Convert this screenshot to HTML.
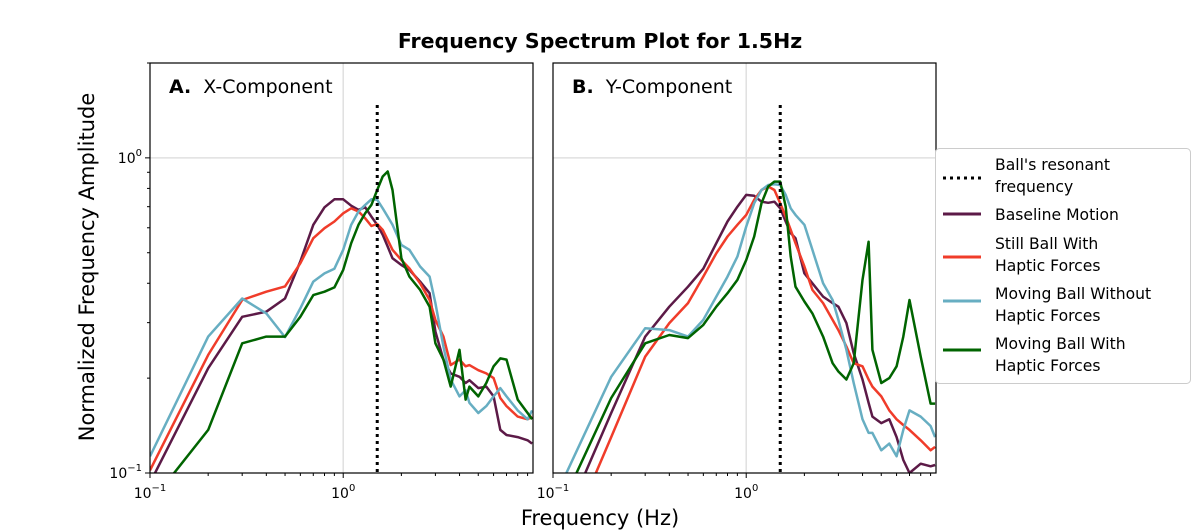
<!DOCTYPE html>
<html><head><meta charset="utf-8"><style>
html,body{margin:0;background:#fff;overflow:hidden;width:1200px;height:532px;}
svg{display:block;font-family:"DejaVu Sans","Liberation Sans",sans-serif;}
</style></head><body>
<svg id="chart" width="1200" height="532" viewBox="0 0 1200 532">
<text x="600" y="48" text-anchor="middle" font-size="20.5" font-weight="bold">Frequency Spectrum Plot for 1.5Hz</text>
<text x="600" y="525" text-anchor="middle" font-size="21">Frequency (Hz)</text>
<text transform="translate(94,267) rotate(-90)" text-anchor="middle" font-size="21">Normalized Frequency Amplitude</text>
<g id="panels"></g>
<g>
<rect x="935.5" y="148.5" width="255" height="235" rx="4" fill="#fff" stroke="#ccc"/>
<g><line x1="943" y1="178" x2="981" y2="178" stroke="#000" stroke-width="3" stroke-dasharray="3,4"/><text x="995" y="170" font-size="15.6">Ball's resonant</text><text x="995" y="192" font-size="15.6">frequency</text></g>
<g><line x1="943" y1="214" x2="981" y2="214" stroke="#5c1a47" stroke-width="3"/><text x="995" y="220" font-size="15.6">Baseline Motion</text></g>
<g><line x1="943" y1="257" x2="981" y2="257" stroke="#f03c2a" stroke-width="3"/><text x="995" y="249" font-size="15.6">Still Ball With</text><text x="995" y="271" font-size="15.6">Haptic Forces</text></g>
<g><line x1="943" y1="301" x2="981" y2="301" stroke="#67aec2" stroke-width="3"/><text x="995" y="299" font-size="15.6">Moving Ball Without</text><text x="995" y="321" font-size="15.6">Haptic Forces</text></g>
<g><line x1="943" y1="350" x2="981" y2="350" stroke="#006400" stroke-width="3"/><text x="995" y="349" font-size="15.6">Moving Ball With</text><text x="995" y="371" font-size="15.6">Haptic Forces</text></g>
</g>
</svg>
<script>
const freqs=[0.1,0.2,0.3,0.4,0.5,0.6,0.7,0.8,0.9,1.0,1.1,1.2,1.3,1.4,1.5,1.6,1.7,1.8,2.0,2.2,2.5,2.8,3.0,3.3,3.6,4.0,4.3,4.5,5.0,5.5,6.0,6.5,7.0,8.0,9.0,9.5];
const xBaseline=[0.093,0.215,0.313,0.325,0.358,0.469,0.613,0.697,0.739,0.739,0.705,0.684,0.697,0.651,0.613,0.570,0.523,0.48,0.457,0.441,0.405,0.372,0.281,0.229,0.207,0.202,0.193,0.197,0.186,0.188,0.175,0.137,0.132,0.130,0.127,0.124];
const xStill=[0.102,0.237,0.354,0.376,0.391,0.463,0.556,0.598,0.628,0.667,0.692,0.676,0.643,0.608,0.617,0.591,0.549,0.511,0.474,0.446,0.40,0.354,0.306,0.271,0.22,0.229,0.218,0.22,0.212,0.207,0.20,0.173,0.163,0.151,0.148,0.151];
const xMovingWithout=[0.113,0.271,0.358,0.321,0.27,0.333,0.405,0.43,0.445,0.511,0.613,0.676,0.709,0.739,0.736,0.692,0.651,0.613,0.529,0.511,0.452,0.42,0.346,0.252,0.198,0.175,0.183,0.167,0.155,0.163,0.175,0.186,0.175,0.158,0.148,0.158];
const xMovingWith=[0.08,0.137,0.258,0.271,0.271,0.313,0.367,0.376,0.388,0.441,0.536,0.613,0.667,0.709,0.791,0.873,0.905,0.791,0.48,0.42,0.381,0.337,0.258,0.229,0.188,0.246,0.171,0.188,0.175,0.193,0.218,0.231,0.229,0.171,0.155,0.148];
const yBaseline=[0.058,0.155,0.271,0.337,0.39,0.445,0.536,0.628,0.70,0.763,0.758,0.726,0.72,0.726,0.692,0.628,0.577,0.556,0.43,0.40,0.363,0.346,0.337,0.299,0.24,0.198,0.167,0.151,0.144,0.148,0.13,0.11,0.10,0.107,0.105,0.106];
const yStill=[0.048,0.13,0.234,0.299,0.346,0.42,0.498,0.563,0.613,0.659,0.736,0.791,0.811,0.791,0.718,0.651,0.591,0.536,0.452,0.381,0.346,0.306,0.284,0.252,0.223,0.218,0.198,0.188,0.175,0.158,0.148,0.142,0.137,0.127,0.118,0.121];
const yMovingWithout=[0.081,0.202,0.288,0.284,0.271,0.306,0.363,0.42,0.486,0.605,0.718,0.791,0.82,0.825,0.82,0.763,0.692,0.659,0.613,0.511,0.40,0.354,0.306,0.246,0.193,0.148,0.134,0.134,0.118,0.124,0.113,0.137,0.158,0.151,0.141,0.13];
const yMovingWith=[0.069,0.173,0.258,0.274,0.268,0.295,0.337,0.372,0.41,0.474,0.563,0.718,0.811,0.841,0.841,0.70,0.486,0.39,0.35,0.321,0.271,0.223,0.21,0.198,0.223,0.41,0.542,0.246,0.193,0.20,0.218,0.271,0.354,0.234,0.166,0.166];
const resonantFreq=1.5;
const xTickMajor=[0.1,1];
const xTickLabels=["−1","0"];
const yTickMajor=[1,0.1];
const yTickLabels=["0","−1"];

const NS="http://www.w3.org/2000/svg";
const svg=document.getElementById('panels');
const X0=0.1,X1=9.6,Y0=0.1,Y1=2.0,TOP=63,BOT=473,W=383;
function mk(t,a,p){const e=document.createElementNS(NS,t);for(const k in a)e.setAttribute(k,a[k]);(p||svg).appendChild(e);return e;}
function panel(left,label,comp,series){
  const g=mk('g',{});
  
  
  const xs=f=>left+(Math.log10(f)-Math.log10(X0))/(Math.log10(X1)-Math.log10(X0))*W;
  const ys=v=>BOT-(Math.log10(v)-Math.log10(Y0))/(Math.log10(Y1)-Math.log10(Y0))*(BOT-TOP);
  const cp='clip'+label;
  const cl=mk('clipPath',{id:cp},g);mk('rect',{x:left,y:TOP,width:W,height:BOT-TOP},cl);
  mk('line',{x1:xs(1),x2:xs(1),y1:TOP,y2:BOT,stroke:'#e0e0e0','stroke-width':1.5},g);
  mk('line',{x1:left,x2:left+W,y1:ys(1),y2:ys(1),stroke:'#e0e0e0','stroke-width':1.5},g);
  const cols=['#5c1a47','#f03c2a','#67aec2','#006400'];
  const names=['baseline-line','still-ball-line','moving-without-line','moving-with-line'];
  series.forEach((s,i)=>{
    const d=s.map((v,j)=>(j?'L':'M')+xs(freqs[j]).toFixed(1)+' '+ys(v).toFixed(1)).join(' ');
    const p=mk('path',{d:d,fill:'none',stroke:cols[i],'stroke-width':2.5,'stroke-linejoin':'round','clip-path':'url(#'+cp+')'},g);
    
    
  });
  const rl=mk('line',{x1:xs(resonantFreq),x2:xs(resonantFreq),y1:105,y2:BOT,stroke:'#000','stroke-width':3,'stroke-dasharray':'3,4'},g);
  
  
  mk('rect',{x:left,y:TOP,width:W,height:BOT-TOP,fill:'none',stroke:'#000','stroke-width':1.2},g);
  for(let dec=0.1;dec<=1;dec*=10){for(let k=1;k<10;k++){const f=dec*k;if(f>X1)break;const x=xs(f);mk('line',{x1:x,x2:x,y1:BOT,y2:BOT+(k==1?5:3),stroke:'#000'},g);}}
  xTickMajor.forEach((f,i)=>{const t=mk('text',{x:xs(f),y:BOT+25,'text-anchor':'middle','font-size':14},g);t.innerHTML='10<tspan dy="-7" font-size="10">'+xTickLabels[i]+'</tspan>';});
  if(label==='A'){
    [0.1,1].forEach(dec=>{for(let k=1;k<10;k++){const v=dec*k;if(v>Y1)break;const y=ys(v);mk('line',{x1:left-(k==1?5:3),x2:left,y1:y,y2:y,stroke:'#000'},g);}});
    yTickMajor.forEach((v,i)=>{const t=mk('text',{x:left-8,y:ys(v)+5,'text-anchor':'end','font-size':14},g);t.innerHTML='10<tspan dy="-7" font-size="10">'+yTickLabels[i]+'</tspan>';});
  }
  const pl=mk('text',{x:left+19,y:93,'font-size':19},g);
  
  
  pl.innerHTML='<tspan font-weight="bold">'+label+'.</tspan><tspan dx="12">'+comp+'</tspan>';
}
panel(150,'A','X-Component',[xBaseline,xStill,xMovingWithout,xMovingWith]);
panel(553,'B','Y-Component',[yBaseline,yStill,yMovingWithout,yMovingWith]);
</script>
</body></html>
